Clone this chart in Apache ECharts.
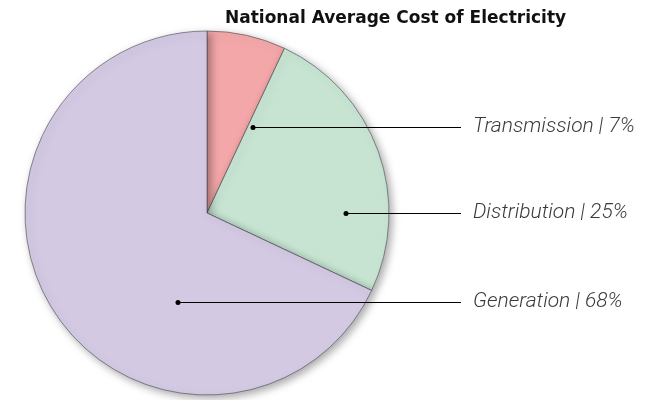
<!DOCTYPE html>
<html>
<head>
<meta charset="utf-8">
<script src="https://cdn.jsdelivr.net/npm/echarts@6/dist/echarts.min.js"></script>
<style>
  html, body { margin: 0; padding: 0; background: #fff; }
  #chart { width: 647px; height: 400px; }
</style>
</head>
<body>
<div id="chart"></div>
<script>
// Cost components of the average electricity bill
const categories = ['Transmission', 'Distribution', 'Generation'];
const shares = [7, 25, 68];
const sliceColors = ['#f3a7a8', '#c6e4d1', '#d3c9e3'];

// Callout layout: row of each label and where its leader line starts
const calloutY = [127, 213, 302];
const dotX = [253, 346, 178];
const lineEndX = 461;
const labelX = 473;

const pieCenter = [207, 213];
const pieRadius = 182;

const chart = echarts.init(document.getElementById('chart'), null, { renderer: 'canvas' });

// Leader lines, anchor dots and callout texts
const callouts = [];
categories.forEach((name, i) => {
  const y = calloutY[i];
  callouts.push({
    type: 'line',
    shape: { x1: dotX[i], y1: y + 0.5, x2: lineEndX, y2: y + 0.5 },
    style: { stroke: '#000', lineWidth: 1.2 },
    z: 100
  });
  callouts.push({
    type: 'circle',
    shape: { cx: dotX[i], cy: y + 0.5, r: 2.5 },
    style: { fill: '#000' },
    z: 101
  });
  callouts.push({
    type: 'text',
    x: labelX,
    y: y,
    style: {
      text: name + ' | ' + shares[i] + '%',
      fontFamily: 'Roboto',
      fontStyle: 'italic',
      fontWeight: 300,
      fontSize: 21,
      fill: '#3a3a3a',
      textAlign: 'left',
      textVerticalAlign: 'middle'
    },
    z: 101
  });
});

const option = {
  animation: false,
  title: {
    text: 'National Average Cost of Electricity',
    left: 220,
    top: 5,
    textStyle: { fontFamily: 'DejaVu Sans', fontWeight: 'bold', fontSize: 17, color: '#111' }
  },
  series: [{
    type: 'pie',
    center: pieCenter,
    radius: pieRadius,
    startAngle: 90,
    clockwise: true,
    silent: true,
    label: { show: false },
    labelLine: { show: false },
    data: categories.map((name, i) => ({
      name,
      value: shares[i],
      itemStyle: { color: sliceColors[i] }
    })),
    itemStyle: {
      borderColor: 'rgba(70,70,80,0.6)',
      borderWidth: 1,
      shadowBlur: 8,
      shadowOffsetX: 3,
      shadowOffsetY: 3,
      shadowColor: 'rgba(0,0,0,0.35)'
    }
  }],
  graphic: callouts
};

chart.setOption(option);
</script>
</body>
</html>
